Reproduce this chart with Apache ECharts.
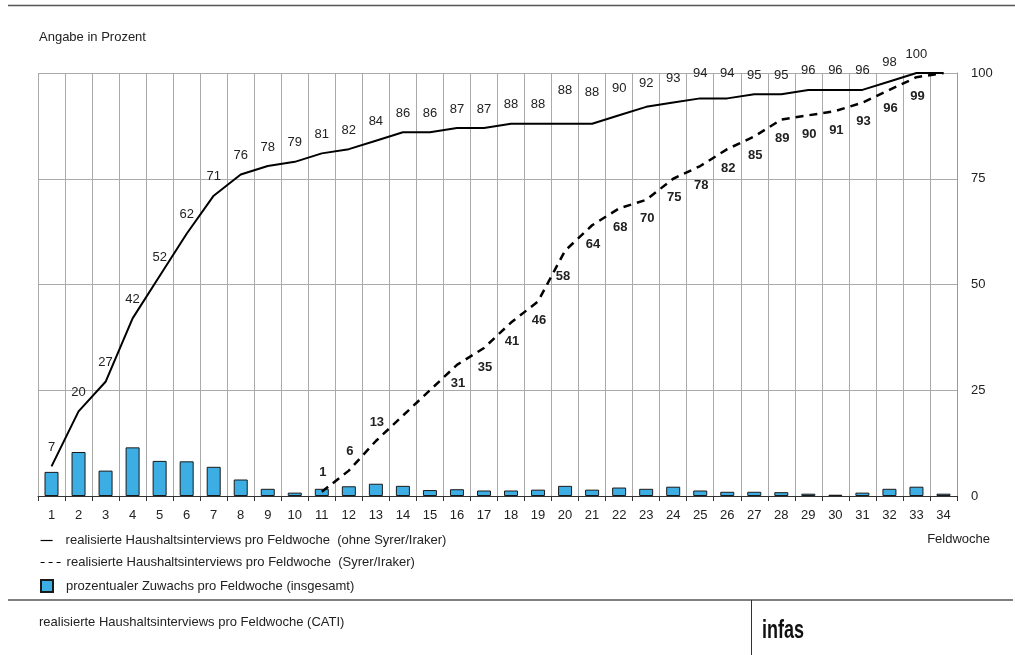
<!DOCTYPE html>
<html>
<head>
<meta charset="utf-8">
<script src="https://cdn.jsdelivr.net/npm/echarts@6/dist/echarts.min.js"></script>
<style>
  html, body { margin: 0; padding: 0; background: #fff; }
  #chart { width: 1015px; height: 655px; }
</style>
</head>
<body>
<div id="chart"></div>
<script>
// Feldwochen 1..34
const weeks = [];
for (let i = 1; i <= 34; i++) weeks.push(String(i));

// kumulierter Anteil, ohne Syrer/Iraker
const ohneSyrer = [7, 20, 27, 42, 52, 62, 71, 76, 78, 79, 81, 82, 84, 86, 86, 87, 87,
  88, 88, 88, 88, 90, 92, 93, 94, 94, 95, 95, 96, 96, 96, 98, 100, 100];

// kumulierter Anteil, Syrer/Iraker (ab Woche 11)
const syrer = [null, null, null, null, null, null, null, null, null, null,
  1, 6, 13, 19, 25, 31, 35, 41, 46, 58, 64, 68, 70, 75, 78, 82, 85, 89, 90, 91, 93, 96, 99, 100];

// prozentualer Zuwachs pro Woche (insgesamt)
const zuwachs = [5.7, 10.4, 6.0, 11.5, 8.3, 8.2, 6.9, 3.9, 1.7, 0.8, 1.7, 2.3, 2.9, 2.4,
  1.4, 1.6, 1.3, 1.3, 1.5, 2.4, 1.5, 2.0, 1.7, 2.2, 1.3, 1.0, 1.0, 0.9, 0.55, 0.3, 0.8, 1.7, 2.2, 0.55];

const yTicks = [0, 25, 50, 75, 100];

const nameSolid = "realisierte Haushaltsinterviews pro Feldwoche  (ohne Syrer/Iraker)";
const nameDash = "realisierte Haushaltsinterviews pro Feldwoche  (Syrer/Iraker)";
const nameBar = "prozentualer Zuwachs pro Feldwoche (insgesamt)";

const font = "'Liberation Sans', Arial, sans-serif";
const txt = "#222";

let chart = echarts.init(document.getElementById("chart"));

// Beschriftung etwas höher in den Wochen, wo das Original sie anhebt
const solidLift = { 19: -14, 20: -12, 21: -8, 22: -4, 23: -5, 24: -6, 25: -6 };
const solidData = ohneSyrer.map((v, i) => {
  if (i === 33) return { value: v, label: { show: false } };
  if (solidLift[i]) return { value: v, label: { offset: [0, solidLift[i]] } };
  return v;
});
// Syrer: 1/6/13 oberhalb, Wochen 14/15 und 34 ohne Beschriftung
const dashData = syrer.map((v, i) => {
  if (v === null) return null;
  if (i === 13 || i === 14 || i === 33) return { value: v, label: { show: false } };
  if (i <= 12) return { value: v, label: { position: "top" } };
  if (i === 19) return { value: v, label: { offset: [-2, 7] } };
  return v;
});

// unsichtbares Symbol, damit die Beschriftungen gezeichnet werden
const hiddenSym = { color: "rgba(0,0,0,0)", borderWidth: 0 };

chart.setOption({
  animation: false,
  textStyle: { fontFamily: font },
  grid: { left: 38, right: 58, top: 73, bottom: 159 },
  legend: [
    {
      data: [{ name: nameSolid, itemStyle: hiddenSym }], left: 40, top: 534, orient: "vertical",
      padding: 0, itemWidth: 12, itemHeight: 14, selectedMode: false,
      lineStyle: { width: 1.2 },
      textStyle: { fontSize: 13, color: txt, padding: [0, 0, 0, 8] }
    },
    {
      data: [{ name: nameDash, itemStyle: hiddenSym }], left: 40, top: 556, orient: "vertical",
      padding: 0, itemWidth: 21, itemHeight: 14, selectedMode: false,
      lineStyle: { width: 1.2, type: [4, 4] },
      textStyle: { fontSize: 13, color: txt }
    },
    {
      data: [{ name: nameBar, icon: "rect" }], left: 40, top: 579, orient: "vertical",
      padding: 0, itemWidth: 12, itemHeight: 12, selectedMode: false,
      textStyle: { fontSize: 13, color: txt, padding: [0, 0, 0, 8] }
    }
  ],
  xAxis: {
    type: "category",
    data: weeks,
    boundaryGap: true,
    axisLine: { lineStyle: { color: "#333", width: 1 } },
    axisTick: { show: true, interval: 0, length: 5, lineStyle: { color: "#333" } },
    axisLabel: { interval: 0, fontSize: 13, color: txt, margin: 13 },
    splitLine: { show: true, interval: 0, lineStyle: { color: "#aaa", width: 1 } }
  },
  yAxis: {
    type: "value",
    position: "right",
    min: yTicks[0],
    max: yTicks[yTicks.length - 1],
    interval: 25,
    axisLine: { show: true, lineStyle: { color: "#999" } },
    axisTick: { show: false },
    axisLabel: { fontSize: 13, color: txt, margin: 14 },
    splitLine: { show: true, lineStyle: { color: "#aaa", width: 1 } }
  },
  series: [
    {
      name: nameBar,
      type: "bar",
      data: zuwachs,
      barWidth: 14,
      itemStyle: { color: "#3daee3", borderColor: "#1a1a1a", borderWidth: 1 }
    },
    {
      name: nameSolid,
      type: "line",
      data: solidData,
      symbol: "circle",
      symbolSize: 1,
      showSymbol: true,
      itemStyle: hiddenSym,
      lineStyle: { color: "#000", width: 2 },
      label: { show: true, position: "top", distance: 12, fontSize: 13, color: txt },
      z: 3
    },
    {
      name: nameDash,
      type: "line",
      data: dashData,
      symbol: "circle",
      symbolSize: 1,
      showSymbol: true,
      itemStyle: hiddenSym,
      lineStyle: { color: "#000", width: 2.5, type: [8, 6] },
      label: { show: true, position: "bottom", distance: 12, offset: [1, 0],
        fontSize: 13, fontWeight: "bold", color: txt },
      z: 3
    }
  ],
  graphic: [
    { type: "line", shape: { x1: 8, y1: 5.5, x2: 1015, y2: 5.5 }, style: { stroke: "#555", lineWidth: 1.5 } },
    { type: "text", left: 39, top: 31, style: { text: "Angabe in Prozent", font: "13px " + font, fill: txt } },
    { type: "text", right: 25, top: 533, style: { text: "Feldwoche", font: "13px " + font, fill: txt } },
    { type: "line", shape: { x1: 8, y1: 600, x2: 1013, y2: 600 }, style: { stroke: "#555", lineWidth: 1.5 } },
    { type: "line", shape: { x1: 751.5, y1: 600, x2: 751.5, y2: 655 }, style: { stroke: "#333", lineWidth: 1 } },
    { type: "text", left: 39, top: 616, style: { text: "realisierte Haushaltsinterviews pro Feldwoche (CATI)", font: "13px " + font, fill: txt } },
    { type: "text", x: 762, y: 619, scaleX: 0.72, style: { text: "infas", font: "bold 25px " + font, fill: "#111" } }
  ]
});
</script>
</body>
</html>
